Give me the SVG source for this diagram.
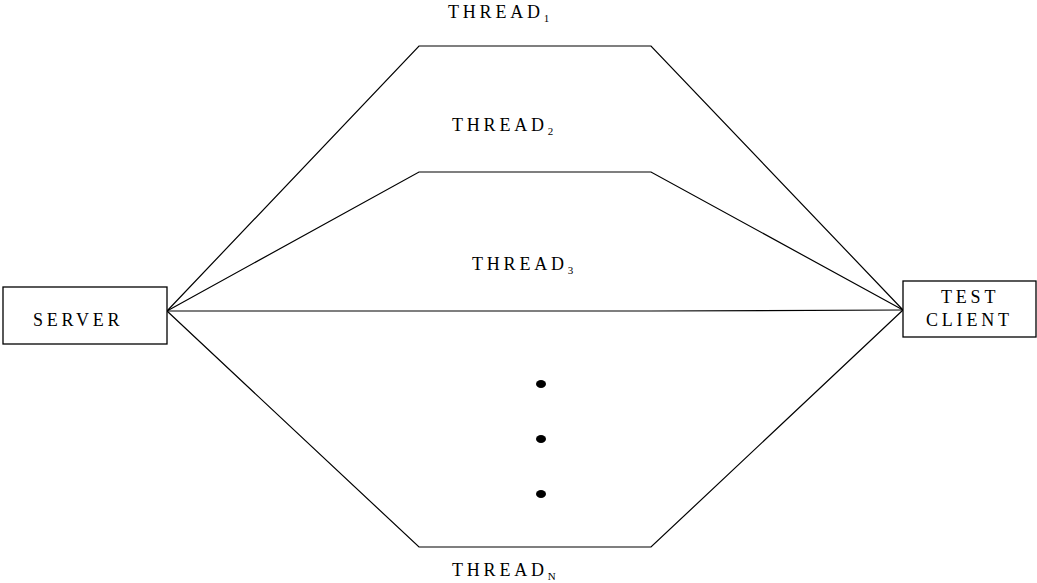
<svg xmlns="http://www.w3.org/2000/svg" width="1037" height="583" viewBox="0 0 1037 583">
  <style>
    .box { fill: #fff; stroke: #000; stroke-width: 1.3; }
    .wire { fill: none; stroke: #000; stroke-width: 1.2; }
    .lbl { font-family: "Liberation Serif", "Times New Roman", serif; font-size: 18px; letter-spacing: 3.8px; fill: #000; }
    .sub { font-size: 11px; letter-spacing: 0; }
  </style>
  <rect width="1037" height="583" fill="#fff"/>

  <g id="connectors">
    <polyline class="wire" points="167,311 419,46 651,46 903,310"/>
    <polyline class="wire" points="167,311 419,172 651,172 903,310"/>
    <polyline class="wire" points="167,311 651,311 903,310"/>
    <polyline class="wire" points="167,311 419,547 651,547 903,310"/>
  </g>

  <g id="server">
    <rect class="box" x="3" y="287" width="164" height="57"/>
    <text class="lbl" x="33" y="326">SERVER</text>
  </g>

  <g id="test-client">
    <rect class="box" x="903" y="281" width="133" height="56"/>
    <text class="lbl" x="941" y="303">TEST</text>
    <text class="lbl" x="926" y="326">CLIENT</text>
  </g>

  <g id="thread-1">
    <text class="lbl" x="448" y="18">THREAD<tspan class="sub" dy="4">1</tspan></text>
  </g>
  <g id="thread-2">
    <text class="lbl" x="452" y="131">THREAD<tspan class="sub" dy="4">2</tspan></text>
  </g>
  <g id="thread-3">
    <text class="lbl" x="472" y="270">THREAD<tspan class="sub" dy="4">3</tspan></text>
  </g>
  <g id="thread-n">
    <text class="lbl" x="452" y="576">THREAD<tspan class="sub" dy="4">N</tspan></text>
  </g>

  <g id="ellipsis">
    <ellipse cx="541" cy="384" rx="5" ry="4"/>
    <ellipse cx="541" cy="439" rx="5" ry="4"/>
    <ellipse cx="541" cy="494" rx="5" ry="4"/>
  </g>
</svg>
